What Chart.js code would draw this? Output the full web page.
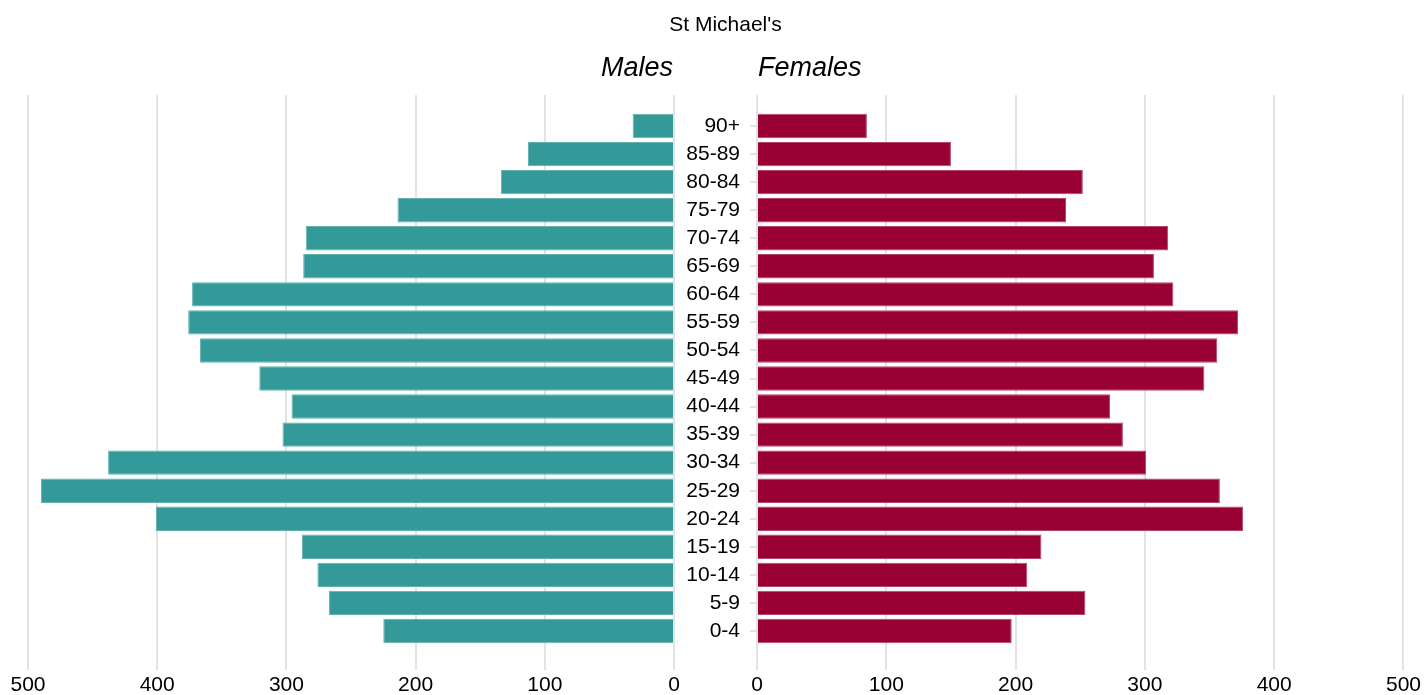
<!DOCTYPE html>
<html>
<head>
<meta charset="utf-8">
<title>St Michael's</title>
<script src="https://cdn.jsdelivr.net/npm/chart.js@4.4.0/dist/chart.umd.min.js"></script>
<style>
  body { margin: 0; background: #fff; font-family: "Liberation Sans", Arial, sans-serif; }
  #wrap { position: relative; width: 1424px; height: 695px; overflow: hidden; }
  .txt { position: absolute; color: #000; white-space: nowrap; }
  #title { left: 625px; width: 201px; top: 13px; font-size: 21px; line-height: 21px; text-align: center; }
  #males-head { left: 0; width: 673px; top: 54px; font-size: 27px; line-height: 27px; text-align: right; font-style: italic; }
  #females-head { left: 758px; top: 54px; font-size: 27px; line-height: 27px; font-style: italic; }
  canvas { position: absolute; top: 0; }
  #males-canvas { left: 0; }
  #females-canvas { left: 680px; }
</style>
</head>
<body>
<div id="wrap">
  <canvas id="males-canvas" width="700" height="695"></canvas>
  <canvas id="females-canvas" width="744" height="695"></canvas>
  <div class="txt" id="title">St Michael's</div>
  <div class="txt" id="males-head">Males</div>
  <div class="txt" id="females-head">Females</div>
</div>
<script>
// age bands, oldest at the top
const ages = ['90+', '85-89', '80-84', '75-79', '70-74', '65-69', '60-64', '55-59', '50-54', '45-49',
              '40-44', '35-39', '30-34', '25-29', '20-24', '15-19', '10-14', '5-9', '0-4']
const males = [32, 113, 134, 214, 285, 287, 373, 376, 367, 321, 296, 303, 438, 490, 401, 288, 276, 267, 225]
const females = [85, 150, 252, 239, 318, 307, 322, 372, 356, 346, 273, 283, 301, 358, 376, 220, 209, 254, 197]
const xTicks = [0, 100, 200, 300, 400, 500]

const gridColor = '#e3e3e3'
const tickFont = { family: '"Liberation Sans", Arial, sans-serif', size: 21 }

setTicks = (scale) => {
    scale.ticks = xTicks.map((v) => ({ value: v }))
}

xScales = (reverse) => ({
    x: {
        type: 'linear',
        min: xTicks[0],
        max: xTicks[xTicks.length - 1],
        reverse: reverse,
        afterBuildTicks: setTicks,
        grid: { color: gridColor, lineWidth: 2, tickLength: 25 },
        border: { display: false },
        ticks: { color: '#000', font: tickFont, padding: 3, maxRotation: 0 },
        afterFit: (s) => { s.height = 50 }
    },
    xTop: {
        type: 'linear',
        axis: 'x',
        position: 'top',
        min: xTicks[0],
        max: xTicks[xTicks.length - 1],
        reverse: reverse,
        afterBuildTicks: setTicks,
        grid: { color: gridColor, lineWidth: 2, drawOnChartArea: false, tickLength: 17 },
        border: { display: false },
        ticks: { display: false },
        afterFit: (s) => { s.height = 17 }
    }
})

createChart = (id, values, color, edge, reverse, yAxis, padding) => {
    const scales = xScales(reverse)
    scales.y = yAxis
    return new Chart(document.getElementById(id), {
        type: 'bar',
        data: {
            labels: ages,
            datasets: [{
                data: values,
                backgroundColor: color,
                borderColor: edge,
                borderWidth: 1,
                barPercentage: 0.87,
                categoryPercentage: 1.0
            }]
        },
        options: {
            indexAxis: 'y',
            responsive: false,
            animation: false,
            layout: { padding: padding },
            plugins: { legend: { display: false }, tooltip: { enabled: false } },
            scales: scales
        }
    })
}

createChart('males-canvas', males, '#339999', '#63b1b1', true,
    { display: false },
    { left: 28, right: 26, top: 95, bottom: 0 })

createChart('females-canvas', females, '#990033', '#b3456b', false,
    {
        grid: { drawOnChartArea: false, offset: false, color: gridColor, lineWidth: 2, tickLength: 7 },
        border: { display: false },
        ticks: { color: '#000', font: tickFont, padding: 10, autoSkip: false },
        afterFit: (s) => { s.width = 77 }
    },
    { left: 0, right: 20, top: 95, bottom: 0 })
</script>
</body>
</html>
